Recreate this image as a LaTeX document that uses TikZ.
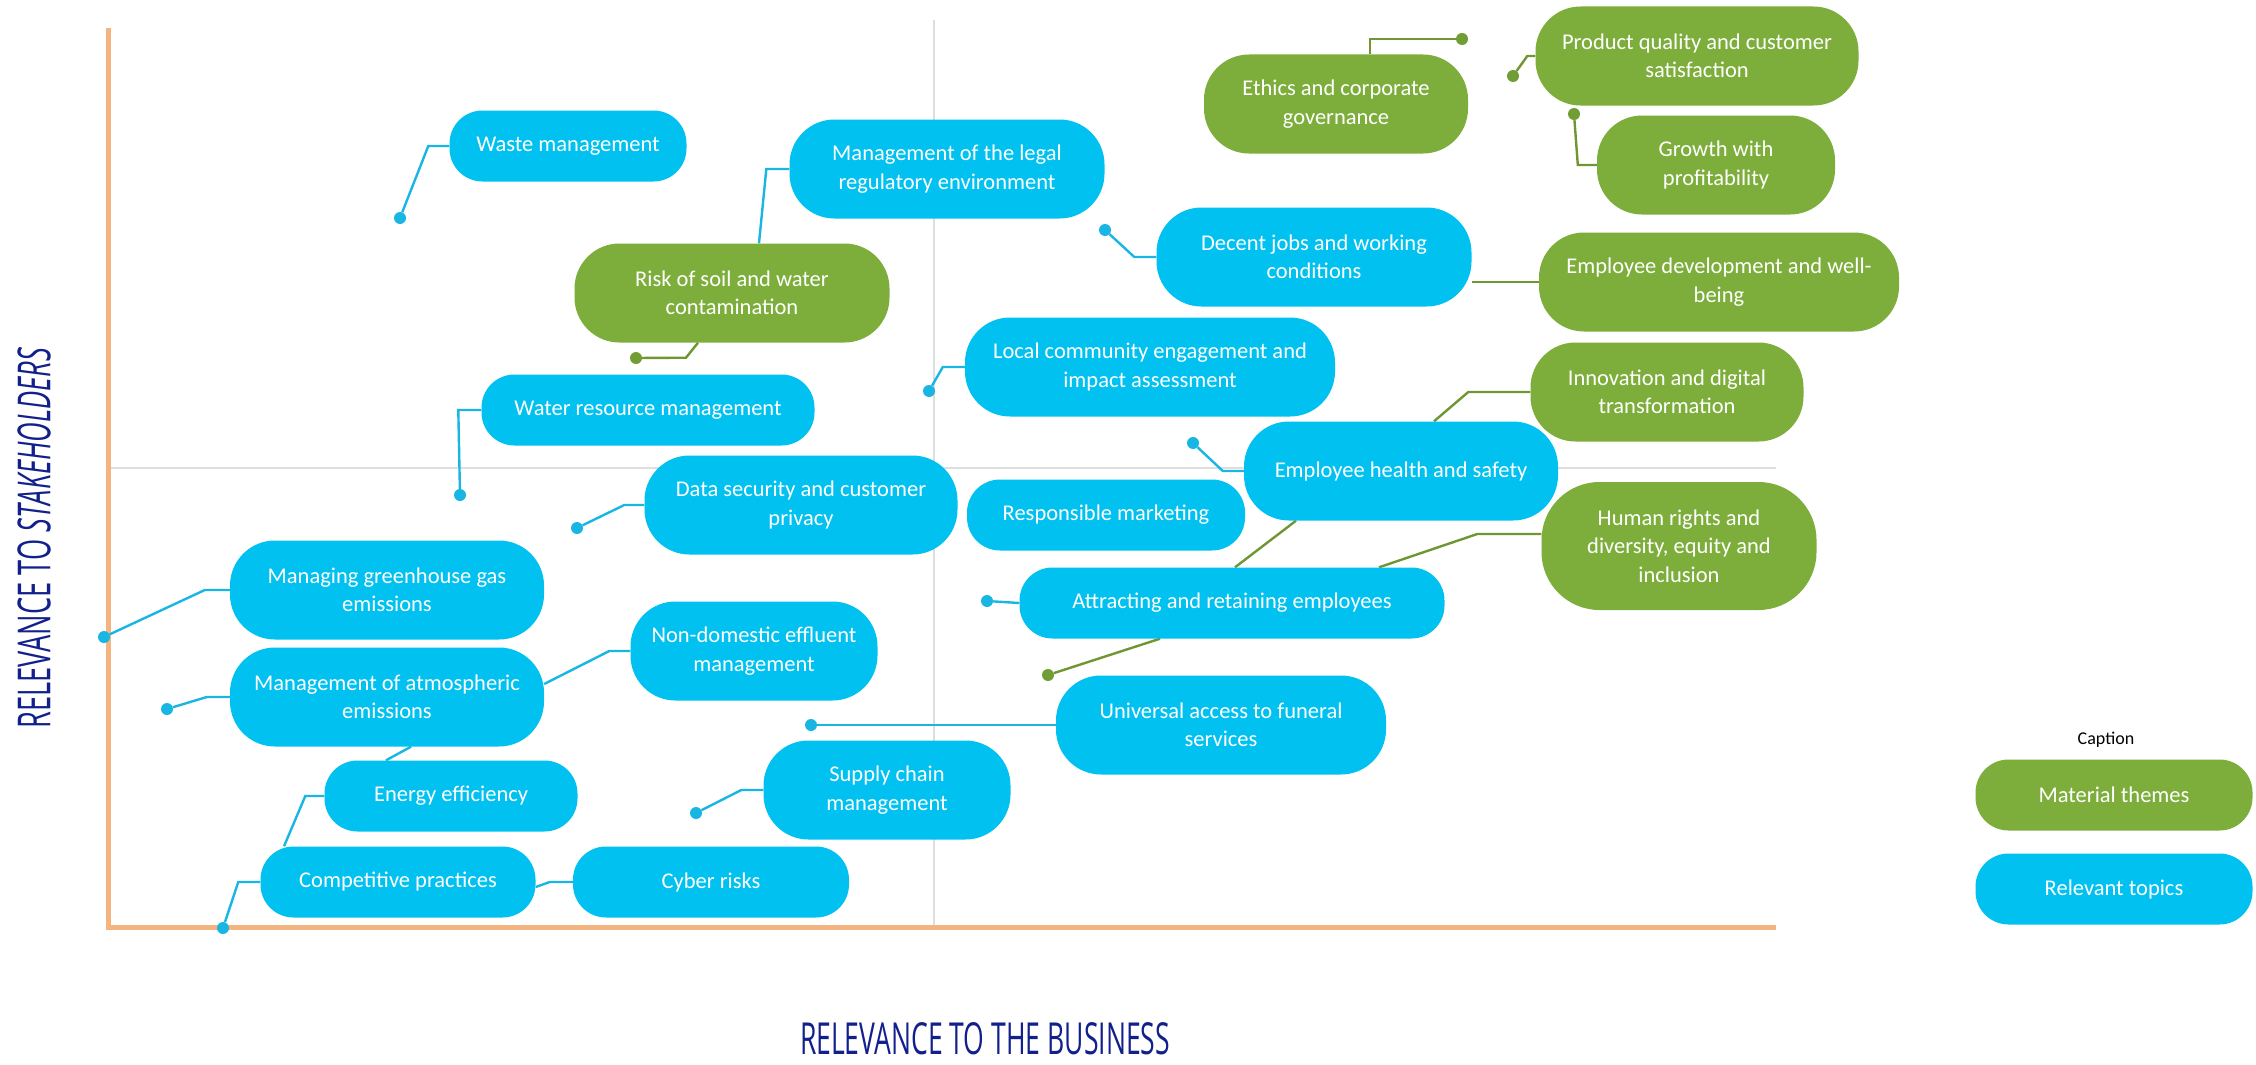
\documentclass[tikz,border=0pt]{standalone}
\usepackage{fontspec}
\usepackage{graphicx}
\setmainfont{Carlito}
\newfontfamily\titlefont{Open Sans}
\usetikzlibrary{backgrounds}

\definecolor{topicblue}{RGB}{0,193,240}
\definecolor{themegreen}{RGB}{125,174,59}
\definecolor{bluewire}{RGB}{25,182,228}
\definecolor{greenwire}{RGB}{112,150,50}
\definecolor{axisorange}{RGB}{244,180,128}
\definecolor{gridgray}{RGB}{222,222,222}
\definecolor{titlenavy}{RGB}{18,32,140}

\begin{document}
\begin{tikzpicture}[x=1pt,y=-1pt,
  pill/.style={rectangle, inner sep=0pt, text=white, align=center,
    font=\fontsize{22.5}{28.5}\selectfont},
  topic/.style={pill, fill=topicblue},
  theme/.style={pill, fill=themegreen},
  h71/.style={minimum height=71pt, rounded corners=33pt},
  h99/.style={minimum height=99pt, rounded corners=45pt},
  h128/.style={minimum height=128pt, rounded corners=58pt},
  bwire/.style={draw=bluewire, line width=2.4pt},
  gwire/.style={draw=greenwire, line width=2.4pt},
  bdot/.style={circle, fill=bluewire, inner sep=0pt, minimum size=12pt},
  gdot/.style={circle, fill=themegreen!90!black, inner sep=0pt, minimum size=12pt},
]
\useasboundingbox (0,0) rectangle (2256,1065);

% ---- topics (blue) and material themes (green) ----
\node[topic,h71,minimum width=237pt] (waste) at (568,146) {Waste management};
\node[topic,h99,minimum width=315pt] (legal) at (947,169) {Management of the legal\\regulatory environment};
\node[theme,h99,minimum width=315pt] (risk) at (732,293) {Risk of soil and water\\contamination};
\node[topic,h71,minimum width=333pt] (water) at (648,410) {Water resource management};
\node[topic,h99,minimum width=370pt] (local) at (1150,367) {Local community engagement and\\impact assessment};
\node[theme,h99,minimum width=264pt] (ethics) at (1336,104) {Ethics and corporate\\governance};
\node[theme,h99,minimum width=323pt] (product) at (1697,56) {Product quality and customer\\satisfaction};
\node[theme,h99,minimum width=238pt] (growth) at (1716,165) {Growth with\\profitability};
\node[topic,h99,minimum width=315pt] (decent) at (1314,257) {Decent jobs and working\\conditions};
\node[theme,h99,minimum width=360pt] (empdev) at (1719,282) {Employee development and well-\\being};
\node[theme,h99,minimum width=273pt] (innov) at (1667,392) {Innovation and digital\\transformation};
\node[topic,h99,minimum width=314pt] (ehs) at (1401,471) {Employee health and safety};
\node[topic,h99,minimum width=313pt] (data) at (801,505) {Data security and customer\\privacy};
\node[topic,h71,minimum width=278pt] (resp) at (1106,515) {Responsible marketing};
\node[theme,h128,minimum width=275pt] (human) at (1679,546) {Human rights and\\diversity, equity and\\inclusion};
\node[topic,h71,minimum width=425pt] (attr) at (1232,603) {Attracting and retaining employees};
\node[topic,h99,minimum width=330pt] (univ) at (1221,725) {Universal access to funeral\\services};
\node[topic,h99,minimum width=247pt] (supply) at (887,790) {Supply chain\\management};
\node[topic,h99,minimum width=314pt] (ghg) at (387,590) {Managing greenhouse gas\\emissions};
\node[topic,h99,minimum width=314pt] (atm) at (387,697) {Management of atmospheric\\emissions};
\node[topic,h99,minimum width=247pt] (nondom) at (754,651) {Non-domestic effluent\\management};
\node[topic,h71,minimum width=253pt] (energy) at (451,796) {Energy efficiency};
\node[topic,h71,minimum width=275pt] (comp) at (398,882) {Competitive practices};
\node[topic,h71,minimum width=276pt] (cyber) at (711,882) {Cyber risks};

% ---- legend ----
\node[font=\fontsize{18}{22}\selectfont, text=black] (caption) at (2106,740) {Caption};
\node[theme,h71,minimum width=277pt] (mat) at (2114,795) {Material themes};
\node[topic,h71,minimum width=277pt] (rel) at (2114,889) {Relevant topics};

% ---- end dots of the leader lines ----
\node[bdot] (dwaste) at (400,218) {};
\node[gdot] (drisk) at (636,358) {};
\node[bdot] (dwater) at (460,495) {};
\node[bdot] (dlocal) at (929,391) {};
\node[gdot] (dethics) at (1462,39) {};
\node[gdot] (dproduct) at (1513,76) {};
\node[gdot] (dgrowth) at (1574,114) {};
\node[bdot] (ddecent) at (1105,230) {};
\node[bdot] (dehs) at (1193,443) {};
\node[bdot] (ddata) at (577,528) {};
\node[bdot] (dattr) at (987,601) {};
\node[gdot] (dattrb) at (1048,675) {};
\node[bdot] (duniv) at (811,725) {};
\node[bdot] (dsupply) at (696,813) {};
\node[bdot] (dghg) at (104,637) {};
\node[bdot] (datm) at (167,709) {};
\node[bdot] (dcomp) at (223,928) {};

% ---- axis titles ----
\node[text=titlenavy, inner sep=0pt] (xtitle) at (985,1039)
  {\resizebox{370pt}{32pt}{\titlefont RELEVANCE TO THE BUSINESS}};
\node[text=titlenavy, inner sep=0pt, rotate=90] (ytitle) at (34,538)
  {\resizebox{381pt}{33pt}{\titlefont RELEVANCE TO \textit{STAKEHOLDERS}}};

\begin{scope}[on background layer]
  % quadrant grid
  \draw[gridgray, line width=1.6pt] (934,20) -- (934,927);
  \draw[gridgray, line width=1.6pt] (108,468) -- (1776,468);
  % axes
  \draw[axisorange, line width=5pt] (108,28) -- (108,927) -- (1776,927);

  % leader lines
  \draw[bwire] (waste.west) -- ++(-21,0) -- (dwaste);
  \draw[bwire] (legal.west) -- ++(-23,0) -- ([xshift=27pt]risk.north);
  \draw[gwire] ([xshift=-34pt]risk.south) -- ++(-12,15) -- (drisk);
  \draw[bwire] (water.west) -- ++(-23,0) -- (dwater);
  \draw[bwire] (local.west) -- ++(-22,0) -- (dlocal);
  \draw[gwire] (dethics) -| ([xshift=34pt]ethics.north);
  \draw[gwire] (product.west) -- ++(-8,0) -- (dproduct);
  \draw[gwire] (growth.west) -- ++(-19,0) -- (dgrowth);
  \draw[bwire] (decent.west) -- ++(-22,0) -- (ddecent);
  \draw[gwire] (empdev.west) -- (empdev.west -| decent.east);
  \draw[gwire] (innov.west) -- ++(-62,0) -- ([xshift=33pt]ehs.north);
  \draw[bwire] (ehs.west) -- ++(-21,0) -- (dehs);
  \draw[bwire] (data.west) -- ++(-20,0) -- (ddata);
  \draw[gwire] ([xshift=-105pt]ehs.south) -- ([xshift=3pt]attr.north);
  \draw[gwire] ([yshift=12pt]human.west) -- ++(-64,0) -- ([xshift=147pt]attr.north);
  \draw[bwire] (attr.west) -- (dattr);
  \draw[gwire] ([xshift=-72pt]attr.south) -- (dattrb);
  \draw[bwire] (univ.west) -- (duniv);
  \draw[bwire] (supply.west) -- ++(-22,0) -- (dsupply);
  \draw[bwire] (ghg.west) -- ++(-25,0) -- (dghg);
  \draw[bwire] (atm.west) -- ++(-23,0) -- (datm);
  \draw[bwire] (nondom.west) -- ++(-21,0) -- ([yshift=13pt]atm.east);
  \draw[bwire] ([xshift=24pt]atm.south) -- ([xshift=-65pt]energy.north);
  \draw[bwire] (energy.west) -- ++(-19,0) -- ([xshift=-114pt]comp.north);
  \draw[bwire] (comp.west) -- ++(-22,0) -- (dcomp);
  \draw[bwire] (cyber.west) -- ++(-23,0) -- ([yshift=-5pt]comp.east);
\end{scope}
\end{tikzpicture}
\end{document}
